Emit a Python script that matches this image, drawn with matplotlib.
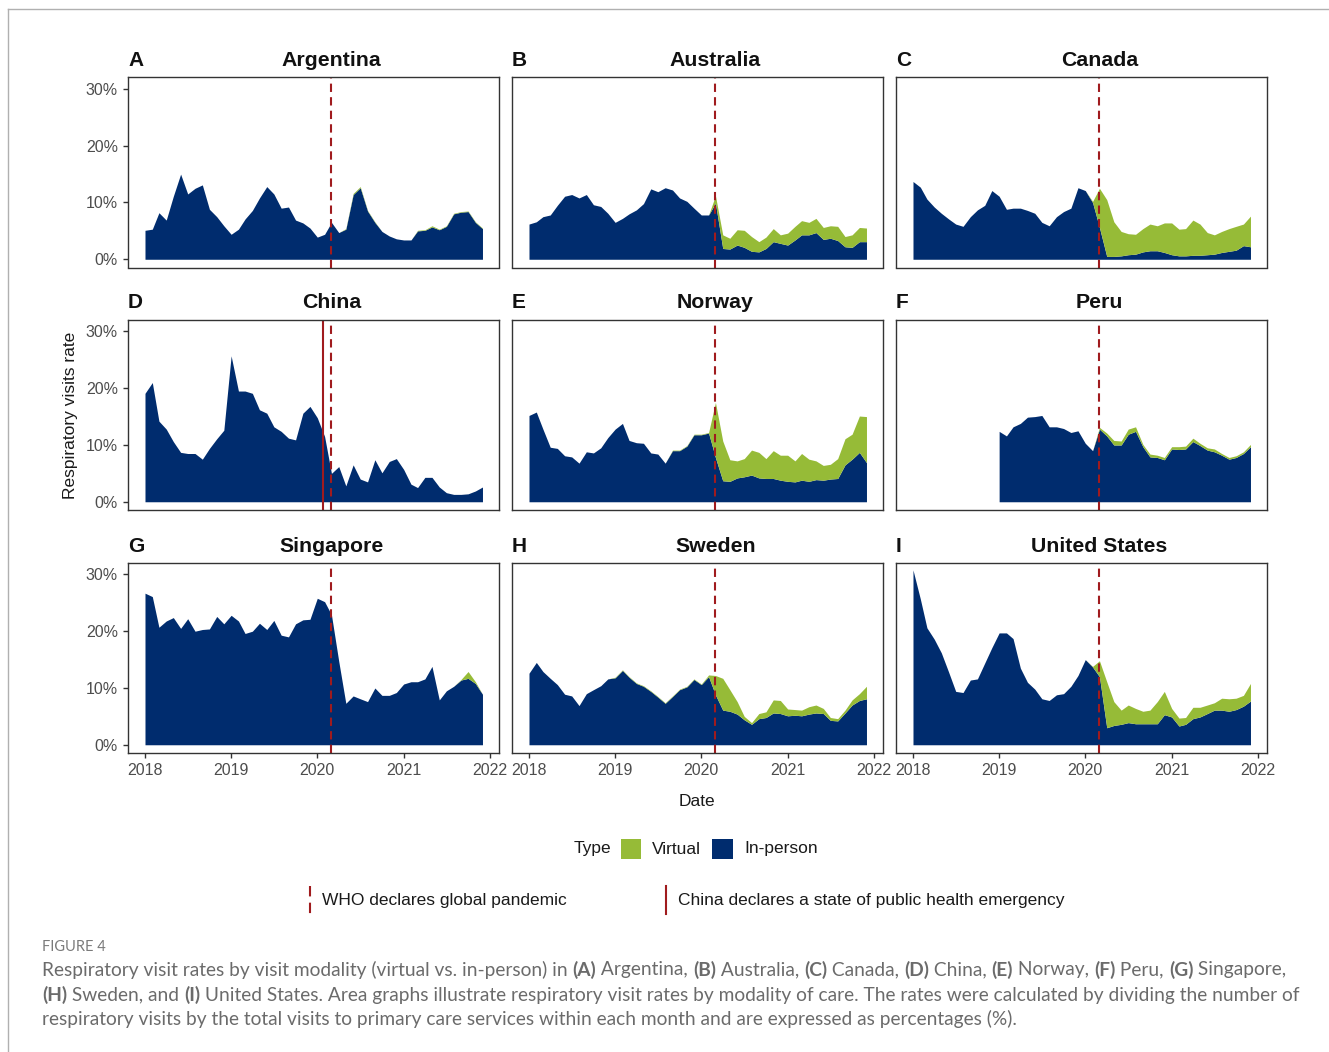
import numpy as np
import pandas as pd
import matplotlib.pyplot as plt
import matplotlib.dates as mdates
from matplotlib.lines import Line2D
from matplotlib.patches import Rectangle
from matplotlib.font_manager import FontProperties

plt.rcParams['font.family'] = ['Liberation Sans', 'DejaVu Sans']

# taxas mensais de visitas respiratorias (%), jan/2018 a dez/2021
datas = pd.date_range('2018-01-01', periods=48, freq='MS')

argentina_presencial = [5.1, 5.3, 8.2, 6.9, 11.1, 15.0, 11.5, 12.5, 13.1, 8.8, 7.5, 5.9,
                        4.4, 5.3, 7.1, 8.6, 10.8, 12.8, 11.5, 9.0, 9.2, 6.9, 6.4, 5.5,
                        3.9, 4.4, 6.5, 4.7, 5.3, 11.4, 12.6, 8.5, 6.5, 4.9, 4.1, 3.6,
                        3.4, 3.4, 5.0, 5.1, 5.7, 5.2, 5.8, 8.0, 8.3, 8.4, 6.5, 5.4]
argentina_virtual = [0, 0, 0, 0, 0, 0, 0, 0, 0, 0, 0, 0,
                     0, 0, 0, 0, 0, 0, 0, 0, 0, 0, 0, 0,
                     0, 0, 0, 0, 0.1, 0.2, 0.2, 0.1, 0.1, 0, 0, 0,
                     0, 0, 0.1, 0.1, 0.2, 0.1, 0.1, 0.1, 0.1, 0.1, 0.1, 0.1]

australia_presencial = [6.2, 6.6, 7.5, 7.8, 9.5, 11.1, 11.4, 10.8, 11.4, 9.6, 9.3, 8.1,
                        6.5, 7.2, 8.0, 8.7, 9.8, 12.4, 11.9, 12.6, 12.2, 10.8, 10.2, 9.0,
                        7.8, 7.8, 9.9, 1.9, 1.8, 2.5, 2.1, 1.4, 1.3, 1.9, 3.1, 2.8,
                        2.5, 3.4, 4.3, 4.3, 4.7, 3.5, 3.7, 3.3, 2.2, 2.1, 3.1, 3.1]
australia_virtual = [0, 0, 0, 0, 0, 0, 0, 0, 0, 0, 0, 0,
                     0, 0, 0, 0, 0, 0, 0, 0, 0, 0, 0, 0,
                     0, 0, 1.3, 2.4, 1.9, 2.7, 3.0, 2.6, 1.8, 2.0, 2.3, 1.5,
                     2.1, 2.4, 2.5, 2.2, 2.5, 2.1, 2.2, 2.5, 1.8, 2.2, 2.5, 2.4]

canada_presencial = [13.7, 12.7, 10.6, 9.2, 8.1, 7.1, 6.2, 5.8, 7.5, 8.7, 9.5, 12.1,
                     11.1, 8.8, 9.0, 9.0, 8.6, 8.1, 6.5, 5.9, 7.5, 8.4, 9.0, 12.6,
                     12.1, 10.0, 5.6, 0.5, 0.5, 0.6, 0.8, 0.9, 1.3, 1.5, 1.5, 1.2,
                     0.8, 0.6, 0.6, 0.7, 0.7, 0.8, 0.9, 1.2, 1.4, 1.6, 2.4, 2.2]
canada_virtual = [0, 0, 0, 0, 0, 0, 0, 0, 0, 0, 0, 0,
                  0, 0, 0, 0, 0, 0, 0, 0, 0, 0, 0, 0,
                  0, 0.2, 6.9, 10.0, 6.1, 4.3, 3.7, 3.5, 4.1, 4.7, 4.4, 5.2,
                  5.6, 4.7, 4.8, 6.2, 5.5, 3.9, 3.4, 3.7, 4.0, 4.2, 3.8, 5.4]

china_presencial = [19.1, 21.0, 14.2, 12.8, 10.6, 8.7, 8.5, 8.5, 7.5, 9.4, 11.1, 12.6,
                    25.7, 19.5, 19.5, 19.1, 16.2, 15.6, 13.2, 12.4, 11.2, 10.9, 15.6, 16.8,
                    14.8, 11.5, 5.0, 6.2, 2.8, 6.5, 4.0, 3.5, 7.4, 5.1, 7.1, 7.6,
                    5.7, 3.1, 2.5, 4.3, 4.3, 2.6, 1.6, 1.3, 1.3, 1.4, 1.9, 2.6]
china_virtual = [0, 0, 0, 0, 0, 0, 0, 0, 0, 0, 0, 0,
                 0, 0, 0, 0, 0, 0, 0, 0, 0, 0, 0, 0,
                 0, 0, 0, 0, 0, 0, 0, 0, 0, 0, 0, 0,
                 0, 0, 0, 0, 0, 0, 0, 0, 0, 0, 0, 0]

norway_presencial = [15.2, 15.8, 12.8, 9.6, 9.4, 8.1, 7.9, 6.8, 8.8, 8.6, 9.5, 11.3,
                     12.8, 13.8, 10.8, 10.4, 10.3, 8.6, 8.4, 6.8, 9.0, 9.0, 9.8, 11.8,
                     11.8, 12.1, 7.8, 3.7, 3.6, 4.2, 4.4, 4.7, 4.2, 4.1, 4.1, 3.8,
                     3.6, 3.5, 3.8, 3.6, 3.9, 3.8, 4.0, 4.1, 6.5, 7.5, 8.7, 6.9]
norway_virtual = [0, 0, 0, 0, 0, 0, 0, 0, 0, 0, 0, 0,
                  0, 0, 0, 0, 0, 0, 0, 0, 0.1, 0.1, 0.1, 0.1,
                  0.1, 0.1, 9.7, 7.0, 3.8, 3.0, 3.2, 4.4, 4.5, 3.5, 4.9, 4.4,
                  4.6, 3.7, 4.7, 3.9, 3.3, 2.6, 2.6, 3.5, 4.6, 4.4, 6.4, 8.1]

nan = np.nan
peru_presencial = [nan, nan, nan, nan, nan, nan, nan, nan, nan, nan, nan, nan,
                   12.4, 11.6, 13.2, 13.8, 14.9, 15.0, 15.2, 13.2, 13.2, 12.9, 12.2, 12.5,
                   10.3, 9.0, 12.8, 11.6, 10.0, 10.0, 11.9, 12.4, 9.7, 7.9, 7.8, 7.4,
                   9.3, 9.2, 9.3, 10.6, 9.9, 9.1, 8.8, 8.2, 7.5, 7.8, 8.5, 9.7]
peru_virtual = [nan, nan, nan, nan, nan, nan, nan, nan, nan, nan, nan, nan,
                0, 0, 0, 0, 0, 0, 0, 0, 0, 0, 0, 0,
                0, 0, 0.3, 0.5, 0.8, 0.7, 0.9, 0.8, 0.4, 0.5, 0.4, 0.4,
                0.4, 0.5, 0.5, 0.6, 0.4, 0.4, 0.5, 0.3, 0.3, 0.3, 0.3, 0.4]

singapore_presencial = [26.7, 26.1, 20.7, 21.8, 22.4, 20.5, 22.2, 20.0, 20.3, 20.4, 22.6, 21.3,
                        22.8, 21.8, 19.6, 20.0, 21.4, 20.3, 21.9, 19.3, 19.0, 21.3, 22.0, 22.1,
                        25.8, 25.2, 22.9, 14.7, 7.3, 8.6, 8.1, 7.6, 10.0, 8.7, 8.7, 9.2,
                        10.7, 11.1, 11.1, 11.6, 13.8, 7.9, 9.5, 10.3, 11.4, 11.7, 10.8, 8.9]
singapore_virtual = [0, 0, 0, 0, 0, 0, 0, 0, 0, 0, 0, 0,
                     0, 0, 0, 0, 0, 0, 0, 0, 0, 0, 0, 0,
                     0, 0, 0, 0, 0, 0, 0, 0, 0, 0, 0, 0,
                     0, 0, 0, 0, 0, 0, 0, 0, 0.1, 1.2, 0.3, 0]

sweden_presencial = [12.6, 14.5, 12.9, 11.7, 10.6, 8.9, 8.6, 6.9, 9.0, 9.7, 10.4, 11.6,
                     11.8, 13.1, 11.9, 10.8, 10.3, 9.4, 8.4, 7.3, 8.5, 9.7, 10.2, 11.5,
                     10.6, 12.0, 8.8, 6.1, 5.9, 5.4, 4.4, 3.6, 4.6, 4.8, 5.6, 5.5,
                     5.1, 5.2, 5.1, 5.4, 5.6, 5.5, 4.3, 4.2, 5.6, 7.0, 7.8, 8.1]
sweden_virtual = [0, 0, 0, 0, 0, 0, 0, 0, 0, 0, 0, 0,
                  0.1, 0.1, 0.1, 0.1, 0.1, 0.1, 0.1, 0.1, 0.1, 0.1, 0.1, 0.1,
                  0.1, 0.3, 3.4, 5.6, 3.8, 2.2, 0.6, 0.3, 0.9, 1.0, 2.3, 2.3,
                  1.2, 1.0, 1.0, 1.3, 1.4, 0.9, 0.5, 0.4, 0.5, 0.9, 1.2, 2.2]

us_presencial = [30.8, 25.7, 20.6, 18.6, 16.2, 12.8, 9.4, 9.2, 11.4, 11.6, 14.4, 17.1,
                 19.7, 19.7, 18.7, 13.5, 11.0, 9.8, 8.1, 7.8, 8.8, 9.0, 10.3, 12.2,
                 15.0, 13.7, 12.0, 3.0, 3.4, 3.6, 3.9, 3.7, 3.7, 3.7, 3.7, 5.3,
                 4.9, 3.3, 3.6, 4.6, 4.9, 5.5, 6.1, 6.1, 5.9, 6.2, 6.8, 7.7]
us_virtual = [0, 0, 0, 0, 0, 0, 0, 0, 0, 0, 0, 0,
              0, 0, 0, 0, 0, 0, 0, 0, 0, 0, 0, 0,
              0, 0.1, 2.8, 8.1, 4.2, 2.5, 3.1, 2.7, 2.2, 2.4, 3.9, 4.1,
              1.5, 1.4, 1.2, 2.0, 1.7, 1.5, 1.3, 2.1, 2.2, 2.0, 1.9, 3.1]

paises = ["Argentina", "Australia", "Canada", "China", "Norway", "Peru",
          "Singapore", "Sweden", "United States"]
letras = ["A", "B", "C", "D", "E", "F", "G", "H", "I"]
presencial = [argentina_presencial, australia_presencial, canada_presencial,
              china_presencial, norway_presencial, peru_presencial,
              singapore_presencial, sweden_presencial, us_presencial]
virtual = [argentina_virtual, australia_virtual, canada_virtual,
           china_virtual, norway_virtual, peru_virtual,
           singapore_virtual, sweden_virtual, us_virtual]

data_oms = pd.Timestamp('2020-03-01')
data_china = pd.Timestamp('2020-01-24')

azul = '#002C6E'
verde = '#96BB37'
vermelho = '#A01B1E'
cinza_texto = '#4D4D4D'

W, H = 1329, 1052


def painel(fig, i):
    lin, col = divmod(i, 3)
    esquerda = [128, 512, 896][col]
    topo = [77, 319.5, 562.5][lin]
    largura, altura = 371, 190.5
    ax = fig.add_axes([esquerda / W, 1 - (topo + altura) / H, largura / W, altura / H])

    p = np.array(presencial[i], dtype=float)
    v = np.array(virtual[i], dtype=float)
    ax.fill_between(datas, 0, p, color=azul, lw=0)
    ax.fill_between(datas, p, p + v, color=verde, lw=0)

    if paises[i] == "China":
        ax.axvline(data_china, color=vermelho, lw=1.5)
    ax.axvline(data_oms, color=vermelho, lw=1.5, linestyle=(0, (4, 2.5)))

    ax.set_xlim(pd.Timestamp('2017-10-21'), pd.Timestamp('2022-02-09'))
    ax.set_ylim(-1.45, 32.1)

    for s in ax.spines.values():
        s.set_color('#333333')
        s.set_linewidth(1.0)

    ax.xaxis.set_major_locator(mdates.YearLocator())
    ax.xaxis.set_major_formatter(mdates.DateFormatter('%Y'))
    ax.set_yticks([0, 10, 20, 30])
    ax.set_yticklabels(["0%", "10%", "20%", "30%"])
    ax.tick_params(length=3.3, width=1, color='#333333', labelcolor=cinza_texto,
                   labelsize=11.5, pad=4)
    if col != 0:
        ax.tick_params(axis='y', left=False, labelleft=False)
    if lin != 2:
        ax.tick_params(axis='x', bottom=False, labelbottom=False)

    y_tit = 1 + 11 / altura
    ax.text(0.5 + 18 / largura, y_tit, paises[i], transform=ax.transAxes,
            ha='center', va='baseline', fontsize=15.3, fontweight='bold', color='#111111')
    ax.text(0, y_tit, letras[i], transform=ax.transAxes,
            ha='left', va='baseline', fontsize=15, fontweight='bold', color='#111111')
    return ax


def largura_texto(renderer, texto, fp):
    w1, _, _ = renderer.get_text_width_height_descent('|' + texto + '|', fp, ismath=False)
    w0, _, _ = renderer.get_text_width_height_descent('||', fp, ismath=False)
    return w1 - w0


def linha_legenda(fig, renderer, x, y, partes, fonte, tam, cor):
    # escreve pedaços normais e em negrito lado a lado
    for texto, negrito in partes:
        peso = 'bold' if negrito else 'normal'
        fp = FontProperties(family=fonte, size=tam, weight=peso)
        fig.text(x / W, 1 - y / H, texto, fontproperties=fp, color=cor,
                 ha='left', va='center')
        x += largura_texto(renderer, texto, fp)


def main():
    fig = plt.figure(figsize=(W / 100, H / 100), dpi=100)
    fig.patch.set_facecolor('white')

    # moldura cinza da figura
    fig.add_artist(Line2D([7.5 / W, 7.5 / W], [0, 1 - 9 / H], color='#b0b0b0', lw=1))
    fig.add_artist(Line2D([7.5 / W, 1], [1 - 9 / H, 1 - 9 / H], color='#b0b0b0', lw=1))

    for i in range(9):
        painel(fig, i)

    fig.text(697 / W, 1 - 802 / H, "Date", ha='center', va='center', fontsize=12.5, color='#1a1a1a')
    fig.text(70 / W, 1 - 415 / H, "Respiratory visits rate", ha='center', va='center',
             rotation=90, fontsize=12.5, color='#1a1a1a')

    # legenda do tipo
    yl = 849
    fig.text(611 / W, 1 - yl / H, "Type", ha='right', va='center', fontsize=12.5, color='#1a1a1a')
    fig.add_artist(Rectangle((621 / W, 1 - 859 / H), 20 / W, 20 / H, color=verde, lw=0))
    fig.text(652 / W, 1 - yl / H, "Virtual", ha='left', va='center', fontsize=12.5, color='#1a1a1a')
    fig.add_artist(Rectangle((712 / W, 1 - 859 / H), 21 / W, 20 / H, color=azul, lw=0))
    fig.text(744 / W, 1 - yl / H, "In-person", ha='left', va='center', fontsize=12.5, color='#1a1a1a')

    # legenda das datas
    yl2 = 901
    fig.add_artist(Line2D([310 / W, 310 / W], [1 - 886 / H, 1 - 914 / H], color=vermelho,
                          lw=1.5, linestyle=(0, (5, 3))))
    fig.text(322 / W, 1 - yl2 / H, "WHO declares global pandemic", ha='left', va='center',
             fontsize=12.5, color='#1a1a1a')
    fig.add_artist(Line2D([666 / W, 666 / W], [1 - 914 / H, 1 - 886 / H], color=vermelho, lw=1.5))
    fig.text(678 / W, 1 - yl2 / H, "China declares a state of public health emergency",
             ha='left', va='center', fontsize=12.5, color='#1a1a1a')

    # texto da figura
    renderer = fig.canvas.get_renderer()
    fonte = 'Lato'
    cor = '#6b6b6b'
    tam = 13.75
    fig.text(42 / W, 1 - 947 / H, "FIGURE 4", ha='left', va='center', fontsize=10.5,
             family=fonte, color='#7a7a7a')
    linha1 = [("Respiratory visit rates by visit modality (virtual vs. in-person) in ", False),
              ("(A)", True), (" Argentina, ", False), ("(B)", True), (" Australia, ", False),
              ("(C)", True), (" Canada, ", False), ("(D)", True), (" China, ", False),
              ("(E)", True), (" Norway, ", False), ("(F)", True), (" Peru, ", False),
              ("(G)", True), (" Singapore,", False)]
    linha2 = [("(H)", True), (" Sweden, and ", False), ("(I)", True),
              (" United States. Area graphs illustrate respiratory visit rates by modality of care. "
               "The rates were calculated by dividing the number of", False)]
    linha3 = [("respiratory visits by the total visits to primary care services within each month "
               "and are expressed as percentages (%).", False)]
    linha_legenda(fig, renderer, 42, 970, linha1, fonte, tam, cor)
    linha_legenda(fig, renderer, 42, 995, linha2, fonte, tam, cor)
    linha_legenda(fig, renderer, 42, 1019, linha3, fonte, tam, cor)

    fig.savefig("out.png", dpi=100)


if __name__ == "__main__":
    main()
